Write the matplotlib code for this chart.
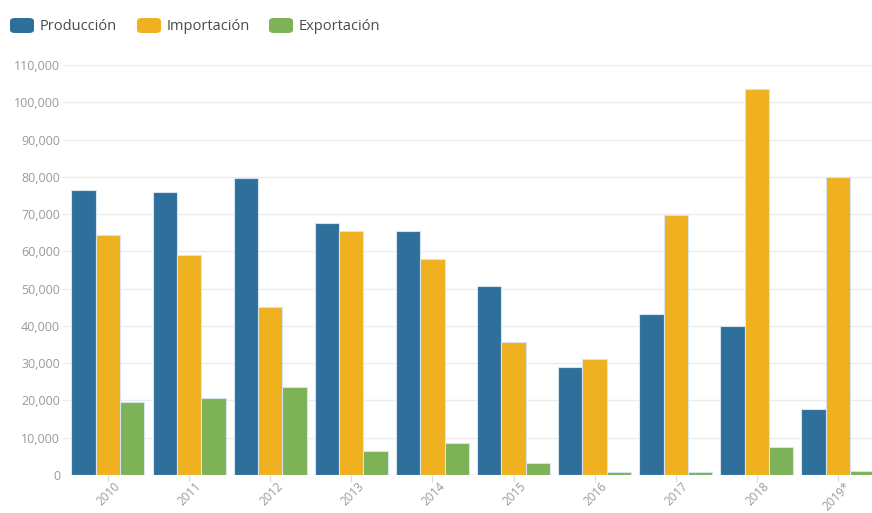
import numpy as np
import matplotlib
matplotlib.use('Agg')
import matplotlib.pyplot as plt
import matplotlib.transforms as mtransforms
from matplotlib.patches import FancyBboxPatch
from matplotlib.ticker import FuncFormatter

plt.rcParams['font.family'] = ['Open Sans', 'DejaVu Sans']

years = ['2010', '2011', '2012', '2013', '2014', '2015', '2016', '2017', '2018', '2019*']
produccion = [76500, 75900, 79700, 67600, 65500, 50700, 29000, 43200, 40000, 17700]
importacion = [64400, 59000, 45100, 65500, 58000, 35700, 31100, 69800, 103600, 80000]
exportacion = [19600, 20700, 23600, 6400, 8600, 3200, 800, 800, 7500, 1100]

series = ['Producción', 'Importación', 'Exportación']
colors = ['#2e6f9b', '#efb11f', '#7db257']

fig = plt.figure(figsize=(8.72, 5.13), dpi=100)
ax = fig.add_axes([0.0722, 0.0741, 0.9278, 0.799])

x = np.arange(len(years))
w = 0.3
for k, vals in enumerate([produccion, importacion, exportacion]):
    ax.bar(x + (k - 1) * w, vals, width=w, color=colors[k],
           edgecolor='#d6e4ee', linewidth=0.8, zorder=3)

ax.set_xlim(-0.555, 9.42)
ax.set_ylim(0, 110000)
ax.set_yticks(np.arange(0, 110001, 10000))
ax.yaxis.set_major_formatter(FuncFormatter(lambda v, p: f'{int(v):,}'))
ax.grid(axis='y', color='#ececec', linewidth=1, zorder=0)
for s in ax.spines.values():
    s.set_visible(False)
ax.tick_params(axis='y', length=0, labelsize=9, labelcolor='#9a9a9a', pad=2)
ax.tick_params(axis='x', length=5, color='#dddddd', labelsize=8.5, labelcolor='#9a9a9a', pad=0)
ax.set_xticks(x)
ax.set_xticklabels(years, rotation=45, ha='right', rotation_mode='anchor')
shift = mtransforms.ScaledTranslation(6 / 100, 2 / 100, fig.dpi_scale_trans)
for lab in ax.get_xticklabels():
    lab.set_transform(lab.get_transform() + shift)

# legend at top-left
W, H = 872, 513
lx = [10, 137, 269]
for k, name in enumerate(series):
    box = FancyBboxPatch((lx[k] / W, 1 - 33 / H), 24 / W, 15 / H,
                         boxstyle='round,pad=0,rounding_size=0.006',
                         transform=fig.transFigure, facecolor=colors[k],
                         edgecolor='none')
    fig.patches.append(box)
    fig.text((lx[k] + 30) / W, 1 - 26 / H, name, fontsize=10.5,
             color='#4a4a4a', va='center', ha='left')

fig.savefig('out.png', dpi=100)
